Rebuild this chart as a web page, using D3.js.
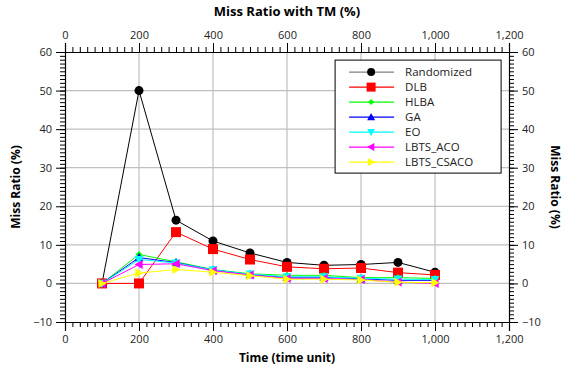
<!DOCTYPE html>
<html>
<head>
<meta charset="utf-8">
<script src="https://cdn.jsdelivr.net/npm/d3@7"></script>
<style>
  body { margin: 0; background: #fff; }
  text { font-family: "Open Sans", "Noto Sans", sans-serif; }
</style>
</head>
<body>
<svg id="chart" width="567" height="367"></svg>
<script>
// data
const times = [100, 200, 300, 400, 500, 600, 700, 800, 900, 1000];
const randomized = [0, 50, 16.4, 11, 7.9, 5.45, 4.7, 4.9, 5.45, 2.9];
const dlb = [0, 0, 13.3, 8.9, 6.2, 4.3, 3.8, 4.0, 2.8, 2.2];
const hlba = [0, 7.5, 5.6, 3.6, 2.5, 2.1, 2.1, 1.5, 1.5, 1.3];
const ga = [0, 6.7, 5.4, 3.5, 2.3, 1.6, 1.6, 1.2, 0.8, 0.8];
const eo = [0, 6.2, 5.3, 3.5, 2.4, 1.7, 1.7, 1.3, 1.1, 1.0];
const lbtsAco = [0, 4.9, 5.1, 3.3, 2.2, 1.3, 1.3, 1.0, 0.35, 0];
const lbtsCsaco = [0, 2.7, 3.6, 2.9, 2.0, 1.1, 1.1, 0.9, 0.3, 0.2];

const seriesNames = ['Randomized', 'DLB', 'HLBA', 'GA', 'EO', 'LBTS_ACO', 'LBTS_CSACO'];
const seriesValues = [randomized, dlb, hlba, ga, eo, lbtsAco, lbtsCsaco];
const seriesColors = ['#000000', '#ff0000', '#00ff00', '#0000ff', '#00ffff', '#ff00ff', '#ffff00'];
const seriesMarkers = ['circle', 'square', 'diamond', 'up', 'down', 'left', 'right'];

const xTicks = [0, 200, 400, 600, 800, 1000, 1200];
const yTicks = [-10, 0, 10, 20, 30, 40, 50, 60];

const svg = d3.select('#chart');
const margin = { top: 52, right: 58, bottom: 45, left: 65 };
const width = 567 - margin.left - margin.right;
const height = 367 - margin.top - margin.bottom;

const x = d3.scaleLinear().domain([0, 1200]).range([0, width]);
const y = d3.scaleLinear().domain([-10, 60]).range([height, 0]);

const g = svg.append('g').attr('transform', `translate(${margin.left},${margin.top})`);

// grid
g.append('g')
	.selectAll('line')
	.data(xTicks.slice(1, -1))
	.enter().append('line')
	.attr('x1', d => x(d)).attr('x2', d => x(d))
	.attr('y1', 0).attr('y2', height)
	.attr('stroke', '#c0c0c0').attr('stroke-width', 1.2);

g.append('g')
	.selectAll('line')
	.data(yTicks.slice(1, -1))
	.enter().append('line')
	.attr('x1', 0).attr('x2', width)
	.attr('y1', d => y(d)).attr('y2', d => y(d))
	.attr('stroke', '#c0c0c0').attr('stroke-width', 1.2);

// axes with minor ticks
const fmt = d3.format(',');
function styleAxis(sel) {
	sel.select('.domain').attr('stroke', '#000').attr('stroke-width', 1.2);
	sel.selectAll('.tick line').attr('stroke', '#000');
	sel.selectAll('.tick text').style('font-size', '11px').attr('fill', '#222');
}

const xMinor = d3.range(0, 1201, 20);
const yMinor = d3.range(-10, 61, 1);

[['bottom', height], ['top', 0]].forEach(([side, pos]) => {
	const mk = side === 'bottom' ? d3.axisBottom : d3.axisTop;
	g.append('g').attr('transform', `translate(0,${pos})`)
		.call(mk(x).tickValues(xMinor).tickSize(5).tickFormat(''))
		.call(s => s.select('.domain').remove())
		.selectAll('line').attr('stroke', '#000');
	g.append('g').attr('transform', `translate(0,${pos})`)
		.call(mk(x).tickValues(xTicks).tickSize(9).tickPadding(4).tickFormat(fmt))
		.call(styleAxis);
});

[['left', 0], ['right', width]].forEach(([side, pos]) => {
	const mk = side === 'left' ? d3.axisLeft : d3.axisRight;
	g.append('g').attr('transform', `translate(${pos},0)`)
		.call(mk(y).tickValues(yMinor).tickSize(5).tickFormat(''))
		.call(s => s.select('.domain').remove())
		.selectAll('line').attr('stroke', '#000');
	g.append('g').attr('transform', `translate(${pos},0)`)
		.call(mk(y).tickValues(yTicks).tickSize(9).tickPadding(4).tickFormat(d => d < 0 ? '\u2212' + Math.abs(d) : d))
		.call(styleAxis);
});

// markers
function markerPath(type, s) {
	const h = s / 2;
	switch (type) {
		case 'square': return `M${-h},${-h}H${h}V${h}H${-h}Z`;
		case 'diamond': return `M0,${-h}L${h},0L0,${h}L${-h},0Z`;
		case 'up': return `M0,${-h}L${h},${h * 0.8}L${-h},${h * 0.8}Z`;
		case 'down': return `M0,${h}L${h},${-h * 0.8}L${-h},${-h * 0.8}Z`;
		case 'left': return `M${-h},0L${h * 0.8},${-h}L${h * 0.8},${h}Z`;
		case 'right': return `M${h},0L${-h * 0.8},${-h}L${-h * 0.8},${h}Z`;
		default: return d3.symbol(d3.symbolCircle, Math.PI * h * h)();
	}
}
const markerSize = [9, 10, 7, 9, 9, 9, 9];

const line = d3.line().x((d, i) => x(times[i])).y(d => y(d));

seriesValues.forEach((vals, k) => {
	const sg = g.append('g');
	sg.append('path')
		.datum(vals)
		.attr('d', line)
		.attr('fill', 'none')
		.attr('stroke', seriesColors[k])
		.attr('stroke-width', 1);
	sg.selectAll('path.m')
		.data(vals)
		.enter().append('path')
		.attr('class', 'm')
		.attr('transform', (d, i) => `translate(${x(times[i])},${y(d)})`)
		.attr('d', markerPath(seriesMarkers[k], markerSize[k]))
		.attr('fill', seriesColors[k]);
});

// legend
const legend = g.append('g').attr('transform', `translate(${x(730)},${y(57.9)})`);
legend.append('rect')
	.attr('width', 166).attr('height', 113)
	.attr('fill', '#fff').attr('stroke', '#000').attr('stroke-width', 1);
seriesNames.forEach((name, k) => {
	const row = legend.append('g').attr('transform', `translate(0,${12 + k * 15})`);
	row.append('line')
		.attr('x1', 14).attr('x2', 59)
		.attr('stroke', seriesColors[k] === '#000000' ? '#808080' : seriesColors[k])
		.attr('stroke-width', 1.2);
	row.append('path')
		.attr('transform', 'translate(36,0)')
		.attr('d', markerPath(seriesMarkers[k], markerSize[k] - 1))
		.attr('fill', seriesColors[k]);
	row.append('text')
		.attr('x', 70).attr('y', 4)
		.style('font-size', '11.5px')
		.attr('fill', '#222')
		.text(name);
});

// titles
svg.append('text')
	.attr('x', margin.left + width / 2).attr('y', 16)
	.attr('text-anchor', 'middle')
	.style('font-size', '13px').style('font-weight', 'bold')
	.text('Miss Ratio with TM (%)');

svg.append('text')
	.attr('x', margin.left + width / 2).attr('y', 362)
	.attr('text-anchor', 'middle')
	.style('font-size', '12px').style('font-weight', 'bold')
	.text('Time (time unit)');

svg.append('text')
	.attr('transform', `translate(20,${margin.top + y(25)}) rotate(-90)`)
	.attr('text-anchor', 'middle')
	.style('font-size', '12px').style('font-weight', 'bold')
	.text('Miss Ratio (%)');

svg.append('text')
	.attr('transform', `translate(551,${margin.top + y(25)}) rotate(90)`)
	.attr('text-anchor', 'middle')
	.style('font-size', '12px').style('font-weight', 'bold')
	.text('Miss Ratio (%)');
</script>
</body>
</html>
